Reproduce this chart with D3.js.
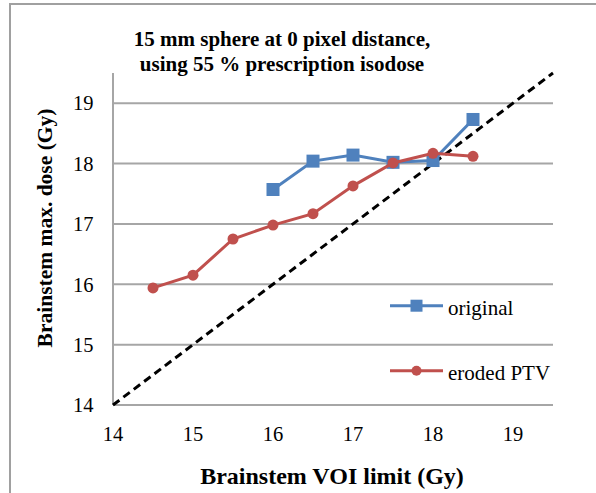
<!DOCTYPE html>
<html>
<head>
<meta charset="utf-8">
<script src="https://cdn.jsdelivr.net/npm/d3@7/dist/d3.min.js"></script>
<style>
  html, body { margin: 0; padding: 0; background: #fff; }
  svg { display: block; }
</style>
</head>
<body>
<svg id="chart" width="596" height="493"></svg>
<script>
// Brainstem VOI limit (Gy) on x, resulting brainstem max dose (Gy) on y
const originalX = [16, 16.5, 17, 17.5, 18, 18.5];
const originalY = [17.57, 18.04, 18.14, 18.02, 18.05, 18.73];

const erodedX = [14.5, 15, 15.5, 16, 16.5, 17, 17.5, 18, 18.5];
const erodedY = [15.94, 16.15, 16.75, 16.98, 17.17, 17.63, 18.01, 18.17, 18.12];

// identity reference line y = x
const identityX = [14, 19.5];

const xTicks = [14, 15, 16, 17, 18, 19];
const yTicks = [14, 15, 16, 17, 18, 19];

const titleLines = ["15 mm sphere at 0 pixel distance,", "using 55 % prescription isodose"];
const seriesNames = ["original", "eroded PTV"];

const FONT = "'Liberation Serif', 'Times New Roman', 'DejaVu Serif', serif";
const blue = "#4f81bd";
const red = "#c0504d";
const grid = "#a6a6a6";

const svg = d3.select("#chart");

// outer chart frame
svg.append("rect")
  .attr("x", 10).attr("y", 4)
  .attr("width", 600).attr("height", 500)
  .attr("fill", "none").attr("stroke", "#a0a0a0").attr("stroke-width", 2);

const x = d3.scaleLinear().domain([14, 19.5]).range([113, 553]);
const y = d3.scaleLinear().domain([14, 19.5]).range([405, 73]);

// horizontal gridlines
svg.append("g").selectAll("line").data(yTicks).join("line")
  .attr("x1", x(14)).attr("x2", x(19.5))
  .attr("y1", d => y(d)).attr("y2", d => y(d))
  .attr("stroke", grid).attr("stroke-width", 2);

// y axis line
svg.append("line")
  .attr("x1", x(14)).attr("x2", x(14))
  .attr("y1", y(19.5)).attr("y2", y(14))
  .attr("stroke", grid).attr("stroke-width", 2);

// tick labels
svg.append("g").selectAll("text").data(yTicks).join("text")
  .attr("x", 93.5).attr("y", d => y(d) + 7.3)
  .attr("text-anchor", "end")
  .style("font-family", FONT).style("font-size", "20.5px")
  .text(d => d);

svg.append("g").selectAll("text").data(xTicks).join("text")
  .attr("x", d => x(d)).attr("y", 441)
  .attr("text-anchor", "middle")
  .style("font-family", FONT).style("font-size", "20.5px")
  .text(d => d);

// dashed identity line
svg.append("path")
  .datum(identityX)
  .attr("d", d3.line().x(d => x(d)).y(d => y(d)))
  .attr("fill", "none").attr("stroke", "#000")
  .attr("stroke-width", 3).attr("stroke-dasharray", "8,5");

const line = d3.line().x(d => x(d[0])).y(d => y(d[1]));

const original = originalX.map((v, i) => [v, originalY[i]]);
const eroded = erodedX.map((v, i) => [v, erodedY[i]]);

// original series: squares
svg.append("path").datum(original)
  .attr("d", line).attr("fill", "none")
  .attr("stroke", blue).attr("stroke-width", 3);
svg.append("g").selectAll("rect").data(original).join("rect")
  .attr("x", d => x(d[0]) - 6.5).attr("y", d => y(d[1]) - 6.5)
  .attr("width", 13).attr("height", 13)
  .attr("fill", blue);

// eroded PTV series: circles
svg.append("path").datum(eroded)
  .attr("d", line).attr("fill", "none")
  .attr("stroke", red).attr("stroke-width", 3);
svg.append("g").selectAll("circle").data(eroded).join("circle")
  .attr("cx", d => x(d[0])).attr("cy", d => y(d[1]))
  .attr("r", 5.5).attr("fill", red);

// legend
const legend = svg.append("g");
const legendRows = [
  { name: seriesNames[0], color: blue, marker: "square", y: 305.7 },
  { name: seriesNames[1], color: red, marker: "circle", y: 370.7 }
];
legendRows.forEach(r => {
  legend.append("line")
    .attr("x1", 390).attr("x2", 443).attr("y1", r.y).attr("y2", r.y)
    .attr("stroke", r.color).attr("stroke-width", 3);
  if (r.marker === "square") {
    legend.append("rect").attr("x", 416.5 - 6).attr("y", r.y - 6)
      .attr("width", 12).attr("height", 12).attr("fill", r.color);
  } else {
    legend.append("circle").attr("cx", 416.5).attr("cy", r.y).attr("r", 5)
      .attr("fill", r.color);
  }
  legend.append("text")
    .attr("x", 448).attr("y", r.y + 9.7)
    .style("font-family", FONT).style("font-size", "21px")
    .text(r.name);
});

// title
svg.append("g").selectAll("text").data(titleLines).join("text")
  .attr("x", 282).attr("y", (d, i) => 46 + i * 25)
  .attr("text-anchor", "middle")
  .style("font-family", FONT).style("font-size", "21px").style("font-weight", "bold")
  .text(d => d);

// axis titles
svg.append("text")
  .attr("x", 332).attr("y", 484)
  .attr("text-anchor", "middle")
  .style("font-family", FONT).style("font-size", "24px").style("font-weight", "bold")
  .text("Brainstem VOI limit (Gy)");

svg.append("text")
  .attr("transform", "translate(52,228) rotate(-90)")
  .attr("text-anchor", "middle")
  .style("font-family", FONT).style("font-size", "21.5px").style("font-weight", "bold")
  .text("Brainstem max. dose (Gy)");
</script>
</body>
</html>
